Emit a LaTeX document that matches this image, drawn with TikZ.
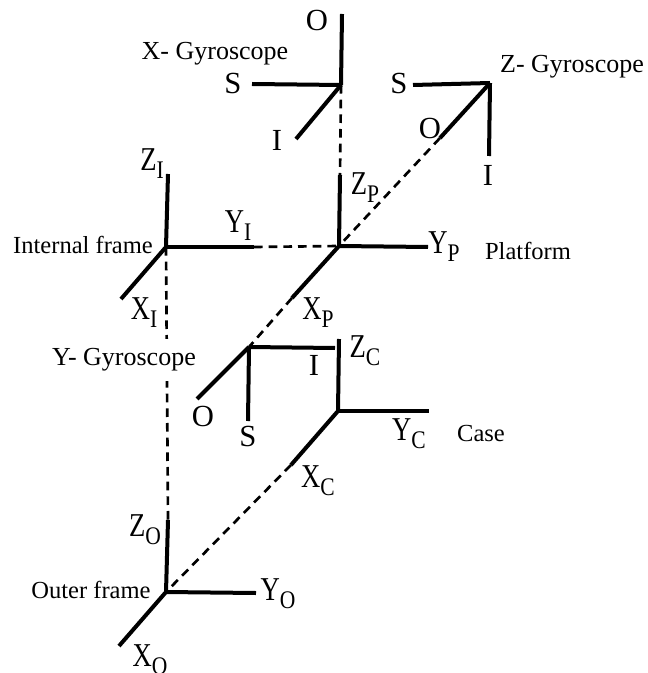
\documentclass[tikz,border=0pt]{standalone}
\usepackage{fontspec}
\setmainfont{Liberation Serif}
\tikzset{
  axisline/.style={draw=black,line width=3pt},
  link/.style={draw=black,dashed,dash pattern=on 6.5pt off 4.5pt,line width=2pt},
  axlabel/.style={font=\fontsize{23}{26}\selectfont,inner sep=0pt},
  framelabel/.style={font=\fontsize{25}{26}\selectfont,inner sep=0pt},
  gyrolabel/.style={font=\fontsize{19.5}{22}\selectfont,inner sep=0pt},
  smalllabel/.style={font=\fontsize{18.4}{20}\selectfont,inner sep=0pt}}
\newcommand{\axsub}[2]{\scalebox{.8}[1]{#1}\raisebox{-6pt}{\scalebox{.85}[1]{\fontsize{19}{20}\selectfont #2}}}
\begin{document}
\begin{tikzpicture}[x=.75pt,y=-.75pt]
\useasboundingbox(0,0)rectangle(648,673);
\clip(0,0)rectangle(648,673);
% origins of the frames
\coordinate(xgyro)at(341,85);\coordinate(zgyro)at(490,83);\coordinate(ygyro)at(249,347);
\coordinate(internal)at(166,247);\coordinate(platform)at(339,246);
\coordinate(case)at(338,411);\coordinate(outer)at(166,592);
% free ends of the axes
\coordinate(xgyroO)at(342,14);\coordinate(xgyroS)at(252,84);\coordinate(xgyroI)at(296,139);
\coordinate(zgyroS)at(413,85);\coordinate(zgyroO)at(440,138);\coordinate(zgyroI)at(489,156);
\coordinate(zI)at(168,174);\coordinate(yI)at(254,247);\coordinate(xI)at(121,299);
\coordinate(zP)at(340,175);\coordinate(yP)at(428,247);\coordinate(xP)at(292,298);
\coordinate(ygyroI)at(335,348);\coordinate(ygyroO)at(197,399);\coordinate(ygyroS)at(248,421);
\coordinate(zC)at(339,339);\coordinate(yC)at(429,411);\coordinate(xC)at(291,465);
\coordinate(zO)at(168,520);\coordinate(yO)at(256,593);\coordinate(xO)at(119,646);
% dashed links
\draw[link](internal)--(zO);
\draw[link](xgyro)--(zP);\draw[link](yI)--(platform);
\draw[link](zgyroO)--(platform);\draw[link](xP)--(ygyro);\draw[link](xC)--(outer);
% axes
\foreach \a/\b in {xgyro/xgyroO,xgyro/xgyroS,xgyro/xgyroI,zgyro/zgyroS,zgyro/zgyroO,zgyro/zgyroI,
  internal/zI,internal/yI,internal/xI,platform/zP,platform/yP,platform/xP,
  ygyro/ygyroI,ygyro/ygyroO,ygyro/ygyroS,case/zC,case/yC,case/xC,
  outer/zO,outer/yO,outer/xO}{\draw[axisline](\a)--(\b);}
% gyroscope letters
\node[axlabel](lxO)at(317,21){O};\node[axlabel](lxS)at(233,84){S};\node[axlabel](lxI)at(277,140){I};
\node[axlabel](lzS)at(399,84){S};\node[axlabel](lzO)at(430,128){O};\node[axlabel](lzI)at(488,175){I};
\node[axlabel](lyI)at(314,365){I};\node[axlabel](lyO)at(203,416){O};\node[axlabel](lyS)at(248,436){S};
% frame letters
\node[framelabel](lZI)at(152,164){\axsub{Z}{I}};\node[framelabel](lYI)at(238,226){\axsub{Y}{I}};
\node[framelabel](lXI)at(144,313){\axsub{X}{I}};
\node[framelabel](lZP)at(365,188){\axsub{Z}{P}};\node[framelabel](lYP)at(444,247){\axsub{Y}{P}};
\node[framelabel](lXP)at(318,313){\axsub{X}{P}};
\node[framelabel](lZC)at(365,351){\axsub{Z}{C}};\node[framelabel](lYC)at(409,434){\axsub{Y}{C}};
\node[framelabel](lXC)at(318,481){\axsub{X}{C}};
\node[framelabel](lZO)at(145,530){\axsub{Z}{O}};\node[framelabel](lYO)at(278,594){\axsub{Y}{O}};
\node[framelabel](lXO)at(150,660){\axsub{X}{O}};
% names
\node[gyrolabel](nx)at(215,54){X- Gyroscope};
\node[gyrolabel](nz)at(572,67){Z- Gyroscope};
\node[gyrolabel,fill=white,inner ysep=7pt](ny)at(124,360){Y- Gyroscope};
\node[smalllabel](ni)at(83,245){Internal frame};
\node[smalllabel](np)at(528,251){Platform};
\node[smalllabel](nc)at(481,433){Case};
\node[smalllabel](no)at(91,590){Outer frame};
\end{tikzpicture}
\end{document}
